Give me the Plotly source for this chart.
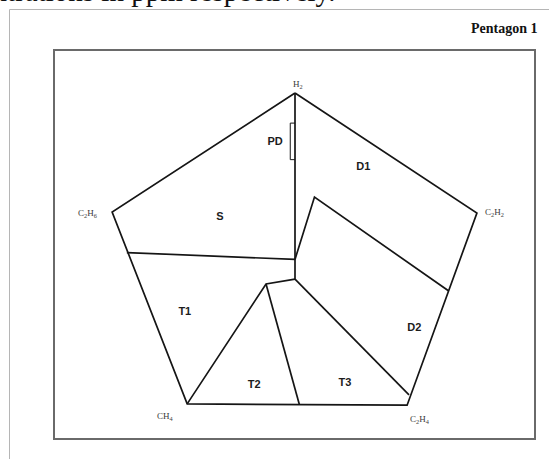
import plotly.graph_objects as go

# Pentagon corners (gas axes), in pentagon percentage coordinates
gas_names = ["H<sub>2</sub>", "C<sub>2</sub>H<sub>2</sub>", "C<sub>2</sub>H<sub>4</sub>",
             "CH<sub>4</sub>", "C<sub>2</sub>H<sub>6</sub>"]
corner_x = [0.0, 38.3, 23.6, -22.7, -38.5]
corner_y = [40.0, 12.1, -32.6, -32.3, 12.3]
gas_label_x = [0.7, 41.9, 26.4, -27.2, -43.6]
gas_label_y = [41.9, 12.1, -36.0, -35.3, 11.9]

# Zone boundary polylines
boundaries = {
    "centre": ([0.0, 0.0], [40.0, -3.3]),
    "S_T1": ([-35.4, 0.0], [2.9, 1.3]),
    "D1_D2": ([0.0, 4.1, 32.3], [1.3, 15.8, -6.0]),
    "D2_T3": ([0.0, 24.0], [-3.3, -30.2]),
    "T1_T2": ([-22.7, -6.1, 0.0], [-32.3, -4.4, -3.3]),
    "T2_T3": ([-6.1, 0.9], [-4.4, -32.4]),
    "PD": ([0.0, -1.0, -1.0, 0.0], [33.0, 33.0, 24.5, 24.5]),
}

# Zone labels
zone_names = ["PD", "S", "D1", "T1", "T2", "T3", "D2"]
zone_x = [-4.2, -15.8, 14.4, -23.2, -8.6, 10.5, 25.1]
zone_y = [28.6, 11.2, 22.7, -10.9, -27.9, -27.6, -14.7]

fig = go.Figure()

# Pentagon outline
fig.add_trace(go.Scatter(
    x=corner_x + corner_x[:1], y=corner_y + corner_y[:1],
    mode="lines", line=dict(color="#151515", width=1.7),
    hoverinfo="skip", showlegend=False))

for name, (bx, by) in boundaries.items():
    fig.add_trace(go.Scatter(
        x=bx, y=by, mode="lines",
        line=dict(color="#151515", width=1.0 if name == "PD" else 1.7),
        hoverinfo="skip", showlegend=False))

# Zone labels
fig.add_trace(go.Scatter(
    x=zone_x, y=zone_y, mode="text", text=zone_names,
    textfont=dict(family="Liberation Sans", size=11, color="#1c1c1c", weight="bold"),
    hoverinfo="skip", showlegend=False))

# Gas labels
for name, gx, gy in zip(gas_names, gas_label_x, gas_label_y):
    fig.add_annotation(x=gx, y=gy, text=name, showarrow=False,
                       font=dict(family="Liberation Serif", size=9, color="#3a3a3a"))

# Title and surrounding page text
fig.add_annotation(xref="paper", yref="paper", x=1.0107, y=1.055,
                   xanchor="right", yanchor="middle", text="<b>Pentagon 1</b>",
                   showarrow=False,
                   font=dict(family="Liberation Serif", size=14, color="#111111"))
fig.add_annotation(xref="paper", yref="paper", x=(337 - 54) / 481, y=(459 - 20 - 5) / 389,
                   xanchor="right", yanchor="bottom", yshift=-4,
                   text="concentrations in ppm respectively.", showarrow=False,
                   font=dict(family="Liberation Serif", size=29, color="#111111"))

# Framing box around the diagram
fig.add_shape(type="rect", xref="paper", yref="paper", x0=0, y0=0, x1=1, y1=1,
              line=dict(color="#6a6a6a", width=2))
# Page border lines
fig.add_shape(type="line", xref="paper", yref="paper",
              x0=(9.5 - 54) / 481, x1=(549 - 54) / 481,
              y0=(459 - 20 - 9.5) / 389, y1=(459 - 20 - 9.5) / 389,
              line=dict(color="#b5b5b5", width=1))
fig.add_shape(type="line", xref="paper", yref="paper",
              x0=(9.5 - 54) / 481, x1=(9.5 - 54) / 481,
              y0=(459 - 20 - 9.5) / 389, y1=-20 / 389,
              line=dict(color="#b5b5b5", width=1))

px_x, px_y = 4.75, 4.3
fig.update_xaxes(range=[(54 - 295) / px_x, (535 - 295) / px_x], visible=False, fixedrange=True)
fig.update_yaxes(range=[(265 - 439) / px_y, (265 - 50) / px_y], visible=False, fixedrange=True)

fig.update_layout(
    width=549, height=459,
    margin=dict(l=54, r=14, t=50, b=20),
    paper_bgcolor="white", plot_bgcolor="white",
    showlegend=False,
)

fig.write_html("out.html", config={"displayModeBar": False})
